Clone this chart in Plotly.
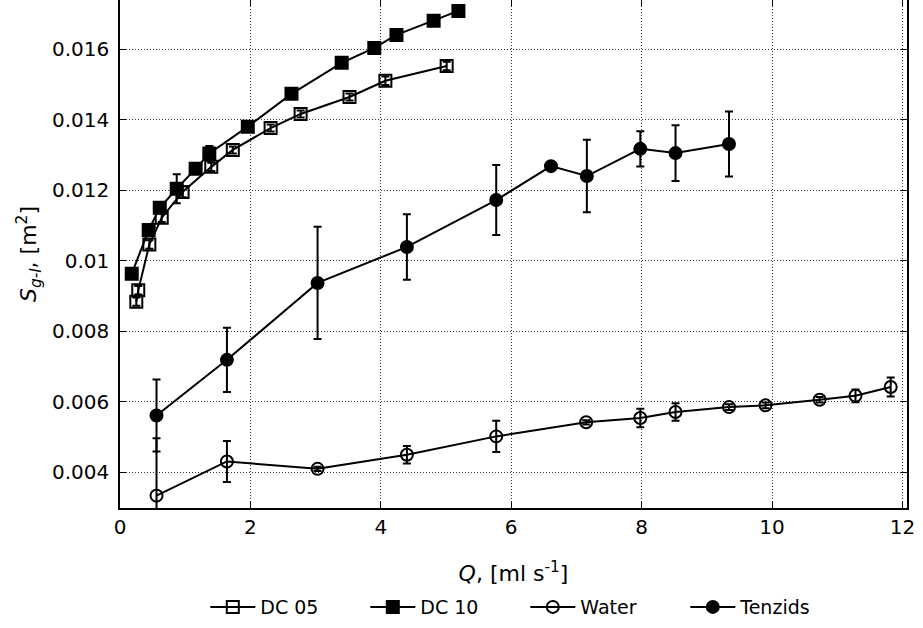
import plotly.graph_objects as go

# ---- data ----
dc05_q = [0.25, 0.28, 0.45, 0.64, 0.96, 1.40, 1.73, 2.31, 2.77, 3.52, 4.07, 5.01]
dc05_s = [0.00884, 0.00916, 0.01046, 0.01122, 0.01195, 0.01266, 0.01314, 0.01376, 0.01416, 0.01464, 0.01510, 0.01552]
dc05_e = [0.00012, 0.00012, 0.00012, 0.00012, 0.00015, 0.00012, 0.00010, 0.00010, 0.00010, 0.00010, 0.00012, 0.00012]

dc10_q = [0.18, 0.44, 0.61, 0.87, 1.16, 1.37, 1.96, 2.63, 3.40, 3.90, 4.24, 4.81, 5.19]
dc10_s = [0.00963, 0.01087, 0.01150, 0.01204, 0.01261, 0.01304, 0.01380, 0.01473, 0.01561, 0.01603, 0.01640, 0.01680, 0.01708]
dc10_e = [0.00005, 0.00005, 0.00005, 0.00041, 0.00005, 0.00021, 0.00005, 0.00005, 0.00005, 0.00005, 0.00005, 0.00005, 0.00005]

water_q = [0.56, 1.64, 3.03, 4.40, 5.77, 7.15, 7.98, 8.52, 9.34, 9.90, 10.73, 11.28, 11.82]
water_s = [0.00334, 0.00431, 0.00410, 0.00450, 0.00502, 0.00542, 0.00554, 0.00571, 0.00585, 0.00590, 0.00606, 0.00617, 0.00642]
water_e = [0.00163, 0.00058, 0.00006, 0.00025, 0.00044, 0.00006, 0.00026, 0.00025, 0.00008, 0.00008, 0.00008, 0.00018, 0.00027]

tenz_q = [0.56, 1.64, 3.03, 4.40, 5.77, 6.61, 7.16, 7.98, 8.52, 9.34]
tenz_s = [0.00561, 0.00719, 0.00937, 0.01039, 0.01172, 0.01268, 0.01240, 0.01317, 0.01305, 0.01331]
tenz_e = [0.00102, 0.00091, 0.00159, 0.00093, 0.00099, 0.00011, 0.00103, 0.00050, 0.00079, 0.00092]

x_ticks = [0, 2, 4, 6, 8, 10, 12]
y_ticks = [0.004, 0.006, 0.008, 0.01, 0.012, 0.014, 0.016]
y_tick_text = ["0.004", "0.006", "0.008", "0.01", "0.012", "0.014", "0.016"]

FONT = "DejaVu Sans"
BLACK = "#000000"

def series(name, q, s, e, symbol, size):
    return go.Scatter(
        x=q, y=s, name=name, mode="lines+markers",
        line=dict(color=BLACK, width=2),
        marker=dict(symbol=symbol, size=size, color=BLACK,
                    line=dict(color=BLACK, width=2)),
        error_y=dict(type="data", array=e, visible=True, color=BLACK, thickness=2, width=4),
        cliponaxis=False,
    )

fig = go.Figure()
fig.add_trace(series("DC 05", dc05_q, dc05_s, dc05_e, "square-open", 12))
fig.add_trace(series("DC 10", dc10_q, dc10_s, dc10_e, "square", 12))
fig.add_trace(series("Water", water_q, water_s, water_e, "circle-open", 12))
fig.add_trace(series("Tenzids", tenz_q, tenz_s, tenz_e, "circle", 12))

axis_common = dict(
    showline=True, linecolor=BLACK, linewidth=1.5, mirror="ticks",
    ticks="inside", ticklen=6, tickcolor=BLACK, tickwidth=1,
    showgrid=True, gridcolor="#333333", griddash="1px,2px", gridwidth=1,
    zeroline=False,
    tickfont=dict(family=FONT, size=20, color=BLACK),
)

fig.update_xaxes(
    range=[0, 12.07], tickvals=x_ticks,
    title=dict(text="<i>Q</i>, [ml s<sup>-1</sup>]", font=dict(family=FONT, size=22, color=BLACK), standoff=28),
    **axis_common,
)
fig.update_yaxes(
    range=[0.00299, 0.01739], tickvals=y_ticks, ticktext=y_tick_text,
    ticklabelstandoff=5,
    title=dict(text="<i>S</i><sub><i>g-l</i></sub>, [m<sup>2</sup>]", font=dict(family=FONT, size=22, color=BLACK), standoff=9),
    **axis_common,
)

fig.update_layout(
    width=923, height=628,
    margin=dict(l=120, r=16, t=0, b=120, autoexpand=False),
    paper_bgcolor="white", plot_bgcolor="white",
    font=dict(family=FONT, size=20, color=BLACK),
    legend=dict(orientation="h", x=0.515, xanchor="center", y=-0.195, yanchor="middle",
                font=dict(family=FONT, size=19, color=BLACK), itemwidth=45,
                entrywidth=100, entrywidthmode="pixels"),
    showlegend=True,
)

fig.write_html("out.html", config={"displayModeBar": False},
               post_script="document.body.style.margin='0';")
